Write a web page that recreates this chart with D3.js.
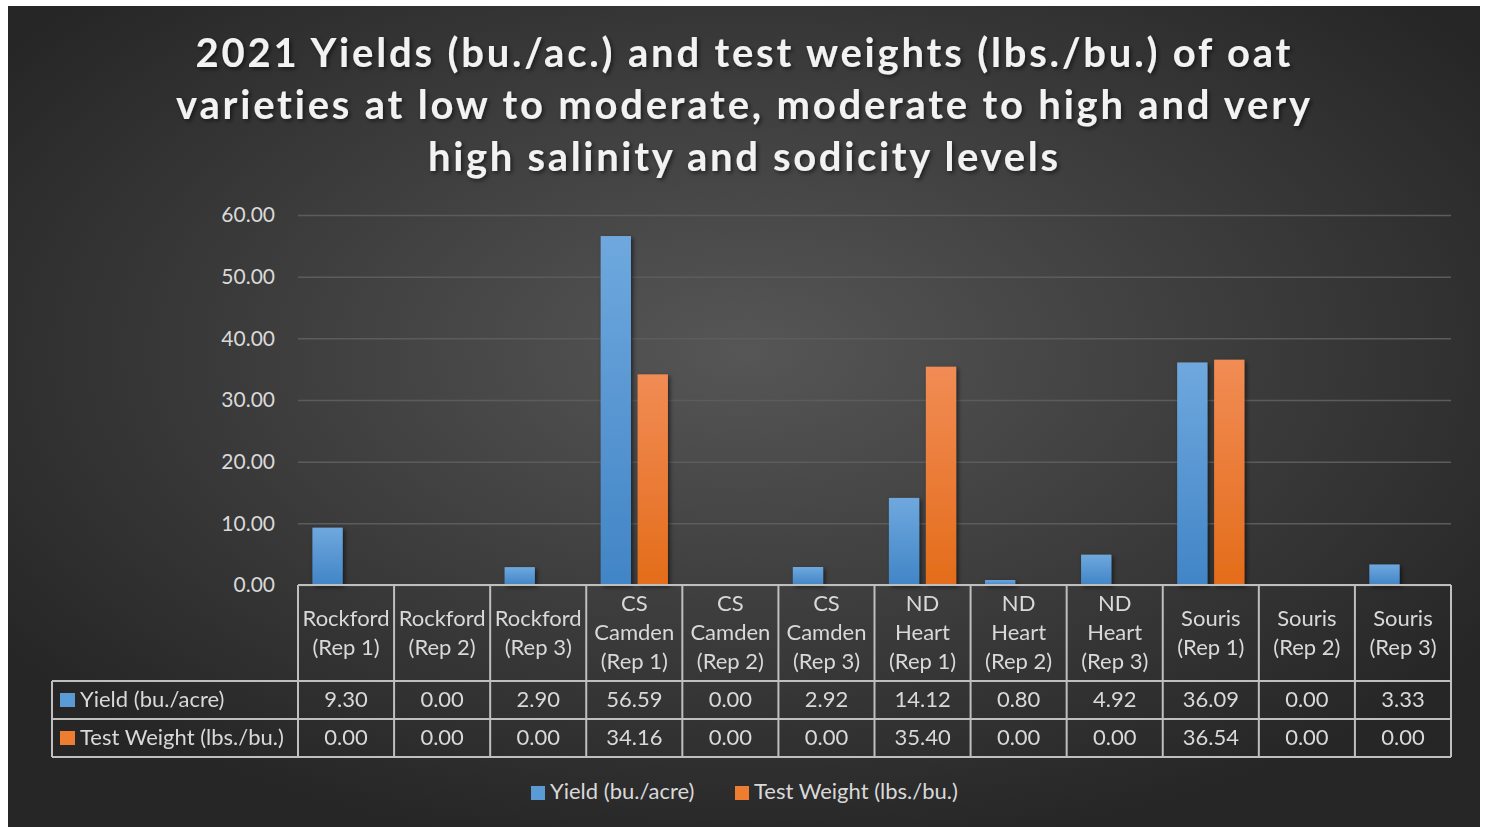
<!DOCTYPE html>
<html>
<head>
<meta charset="utf-8">
<script src="https://cdn.jsdelivr.net/npm/d3@7"></script>
<style>
  html, body { margin: 0; padding: 0; background: #ffffff; }
  svg { display: block; }
  text { font-variant-ligatures: none; }
</style>
</head>
<body>
<div id="chart"></div>
<script>
// values
const categories = [
  "Rockford (Rep 1)", "Rockford (Rep 2)", "Rockford (Rep 3)",
  "CS Camden (Rep 1)", "CS Camden (Rep 2)", "CS Camden (Rep 3)",
  "ND Heart (Rep 1)", "ND Heart (Rep 2)", "ND Heart (Rep 3)",
  "Souris (Rep 1)", "Souris (Rep 2)", "Souris (Rep 3)"
];
const seriesNames = ["Yield (bu./acre)", "Test Weight (lbs./bu.)"];
const yields = [9.30, 0.00, 2.90, 56.59, 0.00, 2.92, 14.12, 0.80, 4.92, 36.09, 0.00, 3.33];
const testWeights = [0.00, 0.00, 0.00, 34.16, 0.00, 0.00, 35.40, 0.00, 0.00, 36.54, 0.00, 0.00];
const yTicks = [0, 10, 20, 30, 40, 50, 60];
const titleLines = [
  "2021 Yields (bu./ac.) and test weights (lbs./bu.) of oat",
  "varieties at low to moderate, moderate to high and very",
  "high salinity and sodicity levels"
];
const titleWidths = [1095, 1134, 630];

const width = 1486;
const height = 827;
const plot = { left: 298, right: 1451, top: 215, bottom: 585 };
const font = "Lato, 'Open Sans', sans-serif";
const textColor = "#d9d9d9";
const lineColor = "#bfbfbf";
const fs = 22;

const svg = d3.select("#chart")
  .append("svg")
  .attr("width", width)
  .attr("height", height);

const defs = svg.append("defs");

// dark radial background like the office "dark" chart style
const bg = defs.append("radialGradient")
  .attr("id", "bg")
  .attr("cx", "50%").attr("cy", "42%").attr("r", "62%");
bg.append("stop").attr("offset", "0%").attr("stop-color", "#565656");
bg.append("stop").attr("offset", "100%").attr("stop-color", "#262626");

function barGradient(id, top, bottom) {
  const g = defs.append("linearGradient")
    .attr("id", id)
    .attr("x1", 0).attr("y1", 0).attr("x2", 0).attr("y2", 1);
  g.append("stop").attr("offset", "0%").attr("stop-color", top);
  g.append("stop").attr("offset", "100%").attr("stop-color", bottom);
}
barGradient("gBlue", "#6fa8de", "#4185c6");
barGradient("gOrange", "#f18c55", "#e46c1a");
const fills = ["url(#gBlue)", "url(#gOrange)"];
const keyFills = ["#5b9bd5", "#ed7d31"];

const shadow = defs.append("filter").attr("id", "shadow")
  .attr("x", "-20%").attr("y", "-20%").attr("width", "150%").attr("height", "150%");
shadow.append("feDropShadow")
  .attr("dx", 2).attr("dy", 2).attr("stdDeviation", 2)
  .attr("flood-color", "#000").attr("flood-opacity", 0.55);

svg.append("rect")
  .attr("x", 8).attr("y", 6)
  .attr("width", 1472).attr("height", height - 6)
  .attr("fill", "url(#bg)");

// title
svg.append("g")
  .attr("filter", "url(#shadow)")
  .selectAll("text")
  .data(titleLines)
  .join("text")
    .attr("x", 743)
    .attr("y", (d, i) => 67 + i * 52)
    .attr("text-anchor", "middle")
    .attr("font-family", font)
    .attr("font-weight", "bold")
    .attr("font-size", 40)
    .attr("textLength", (d, i) => titleWidths[i])
    .attr("lengthAdjust", "spacing")
    .attr("fill", "#f2f2f2")
    .text(d => d);

// scales
const x0 = d3.scaleBand()
  .domain(categories)
  .range([plot.left, plot.right])
  .paddingInner(0.3)
  .paddingOuter(0.15);

const x1 = d3.scaleBand()
  .domain(seriesNames)
  .range([0, x0.bandwidth()])
  .paddingInner(0.18);

const y = d3.scaleLinear()
  .domain([0, 60])
  .range([plot.bottom, plot.top]);

const step = x0.step();
const colEdge = i => plot.left + i * step;

// gridlines + y labels
const yAxis = svg.append("g")
  .attr("transform", `translate(${plot.left},0)`)
  .call(d3.axisLeft(y)
    .tickValues(yTicks)
    .tickSize(-(plot.right - plot.left))
    .tickPadding(23)
    .tickFormat(d3.format(".2f")));
yAxis.select(".domain").remove();
yAxis.selectAll(".tick line")
  .attr("stroke", "#5c5c5c")
  .attr("stroke-width", 1.5);
yAxis.selectAll(".tick text")
  .attr("fill", textColor)
  .attr("font-family", font)
  .attr("font-size", 21);

// bars
const rows = categories.map((c, i) => ({ cat: c, values: [yields[i], testWeights[i]] }));
svg.append("g")
  .attr("filter", "url(#shadow)")
  .selectAll("g")
  .data(rows)
  .join("g")
    .attr("transform", d => `translate(${x0(d.cat)},0)`)
  .selectAll("rect")
  .data(d => d.values.map((v, j) => ({ key: seriesNames[j], value: v, j })))
  .join("rect")
    .attr("x", d => x1(d.key))
    .attr("y", d => y(d.value))
    .attr("width", x1.bandwidth())
    .attr("height", d => y(0) - y(d.value))
    .attr("fill", d => fills[d.j]);

// data table
const table = svg.append("g");
const rowTop = [681, 719];
const rowH = 38;
const tableLeft = 52;
const stroke = (sel) => sel.attr("stroke", lineColor).attr("stroke-width", 2).attr("fill", "none");

// horizontal lines
table.append("line").attr("x1", plot.left).attr("x2", plot.right).attr("y1", plot.bottom).attr("y2", plot.bottom).call(stroke);
[681, 719, 757].forEach(yy => {
  table.append("line").attr("x1", tableLeft).attr("x2", plot.right).attr("y1", yy).attr("y2", yy).call(stroke);
});
// vertical lines
d3.range(categories.length + 1).forEach(i => {
  table.append("line").attr("x1", colEdge(i)).attr("x2", colEdge(i))
    .attr("y1", plot.bottom).attr("y2", 757).call(stroke);
});
table.append("line").attr("x1", tableLeft).attr("x2", tableLeft)
  .attr("y1", 681).attr("y2", 757).call(stroke);

// header (category names, wrapped)
function wrapLines(name) {
  const k = name.indexOf(" (");
  return name.slice(0, k).split(" ").concat([name.slice(k + 1)]);
}
categories.forEach((c, i) => {
  const lines = wrapLines(c);
  const cx = colEdge(i) + step / 2;
  table.append("text")
    .attr("font-family", font)
    .attr("font-size", fs)
    .attr("fill", textColor)
    .attr("text-anchor", "middle")
    .selectAll("tspan")
    .data(lines)
    .join("tspan")
      .attr("x", cx)
      .attr("y", (d, k) => 640 + (k - (lines.length - 1) / 2) * 29)
      .text(d => d);
});

// value rows
[yields, testWeights].forEach((vals, r) => {
  table.append("rect")
    .attr("x", 60).attr("y", rowTop[r] + 12)
    .attr("width", 15).attr("height", 14)
    .attr("fill", keyFills[r]);
  table.append("text")
    .attr("x", 80).attr("y", rowTop[r] + rowH / 2 + 7)
    .attr("font-family", font).attr("font-size", fs)
    .attr("fill", textColor)
    .text(seriesNames[r]);
  table.selectAll(null)
    .data(vals)
    .join("text")
      .attr("x", (d, i) => colEdge(i) + step / 2)
      .attr("y", rowTop[r] + rowH / 2 + 7)
      .attr("text-anchor", "middle")
      .attr("font-family", font).attr("font-size", fs)
      .attr("fill", textColor)
      .text(d => d3.format(".2f")(d));
});

// legend
const legend = svg.append("g").attr("transform", "translate(531,786)");
const legendX = [0, 204];
seriesNames.forEach((s, i) => {
  const g = legend.append("g").attr("transform", `translate(${legendX[i]},0)`);
  g.append("rect").attr("width", 14).attr("height", 14).attr("fill", keyFills[i]);
  g.append("text")
    .attr("x", 19).attr("y", 13)
    .attr("font-family", font).attr("font-size", fs)
    .attr("fill", textColor)
    .text(s);
});
</script>
</body>
</html>
